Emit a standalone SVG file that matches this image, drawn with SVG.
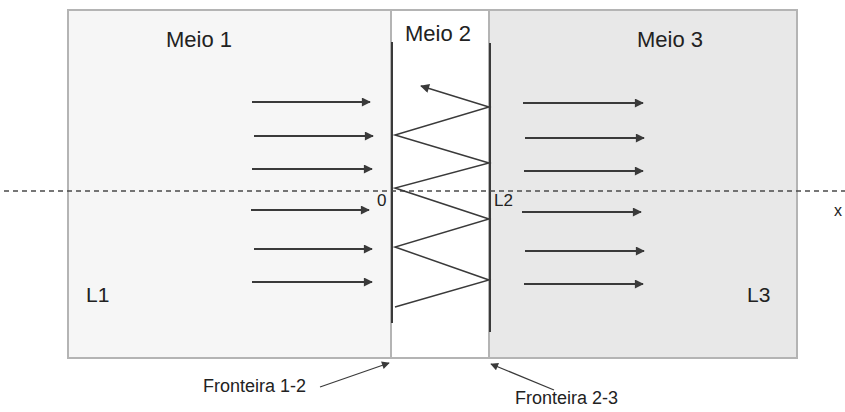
<svg xmlns="http://www.w3.org/2000/svg" width="845" height="412" viewBox="0 0 845 412">
<defs>
<style>
.box{stroke:#b4b4b4;stroke-width:2}
.bd{stroke:#3a3a3a;stroke-width:2;fill:none}
.ar{stroke:#3a3a3a;stroke-width:2;fill:none;marker-end:url(#ah)}
.zz{stroke:#3a3a3a;stroke-width:1.5;fill:none;marker-end:url(#ah2)}
.pt{stroke:#3a3a3a;stroke-width:1.3;fill:none;marker-end:url(#ah2)}
.t{font-family:"Liberation Sans",Arial,sans-serif;fill:#222}
</style>
<marker id="ah" viewBox="0 0 10 10" refX="9" refY="5" markerWidth="5" markerHeight="4.5" orient="auto" markerUnits="strokeWidth">
<path d="M0,0 L10,5 L0,10 z" fill="#3a3a3a"/>
</marker>
<marker id="ah2" viewBox="0 0 10 10" refX="9" refY="5" markerWidth="7" markerHeight="6" orient="auto" markerUnits="strokeWidth">
<path d="M0,0 L10,5 L0,10 z" fill="#3a3a3a"/>
</marker>
</defs>
<rect width="845" height="412" fill="#ffffff"/>
<g id="meio1">
<rect class="box" x="68" y="10" width="323" height="348" fill="#f6f6f6"/>
<text class="t" x="166" y="47" font-size="22">Meio 1</text>
<text class="t" x="86" y="302" font-size="21">L1</text>
</g>
<g id="meio2">
<rect class="box" x="391" y="10" width="98" height="348" fill="#ffffff"/>
<text class="t" x="405" y="41" font-size="22">Meio 2</text>
</g>
<g id="meio3">
<rect class="box" x="489" y="10" width="308" height="348" fill="#e8e8e8"/>
<text class="t" x="637" y="47" font-size="22">Meio 3</text>
<text class="t" x="747" y="302" font-size="21">L3</text>
</g>
<g id="boundary12">
<line class="bd" x1="392" y1="42" x2="392" y2="323"/>
<text class="t" x="377" y="206" font-size="17">0</text>
</g>
<g id="boundary23">
<line class="bd" x1="490" y1="43" x2="490" y2="332"/>
<text class="t" x="494" y="206" font-size="17">L2</text>
</g>
<g id="axis">
<line x1="4" y1="191" x2="845" y2="191" stroke="#4a4a4a" stroke-width="1.6" stroke-dasharray="5,4"/>
<text class="t" x="834" y="216" font-size="16">x</text>
</g>
<g id="connectors">
<line class="ar" x1="252" y1="102" x2="370" y2="102"/>
<line class="ar" x1="254" y1="136" x2="373" y2="136"/>
<line class="ar" x1="252" y1="169" x2="372" y2="169"/>
<line class="ar" x1="251" y1="210" x2="369" y2="210"/>
<line class="ar" x1="254" y1="249" x2="372" y2="249"/>
<line class="ar" x1="252" y1="282" x2="372" y2="282"/>
<line class="ar" x1="523" y1="103" x2="643" y2="103"/>
<line class="ar" x1="525" y1="138" x2="644" y2="138"/>
<line class="ar" x1="524" y1="171" x2="643" y2="171"/>
<line class="ar" x1="522" y1="212" x2="641" y2="212"/>
<line class="ar" x1="525" y1="251" x2="644" y2="251"/>
<line class="ar" x1="524" y1="284" x2="643" y2="284"/>
<polyline class="zz" points="395,307 489,280 395,247 489,219 395,188 489,163 395,135 489,107 421,86"/>
<line class="pt" x1="320" y1="387" x2="389" y2="363"/>
<line class="pt" x1="554" y1="390" x2="491" y2="364"/>
</g>
<g id="labels">
<text class="t" x="203" y="392" font-size="18">Fronteira 1-2</text>
<text class="t" x="515" y="404" font-size="18">Fronteira 2-3</text>
</g>
</svg>
